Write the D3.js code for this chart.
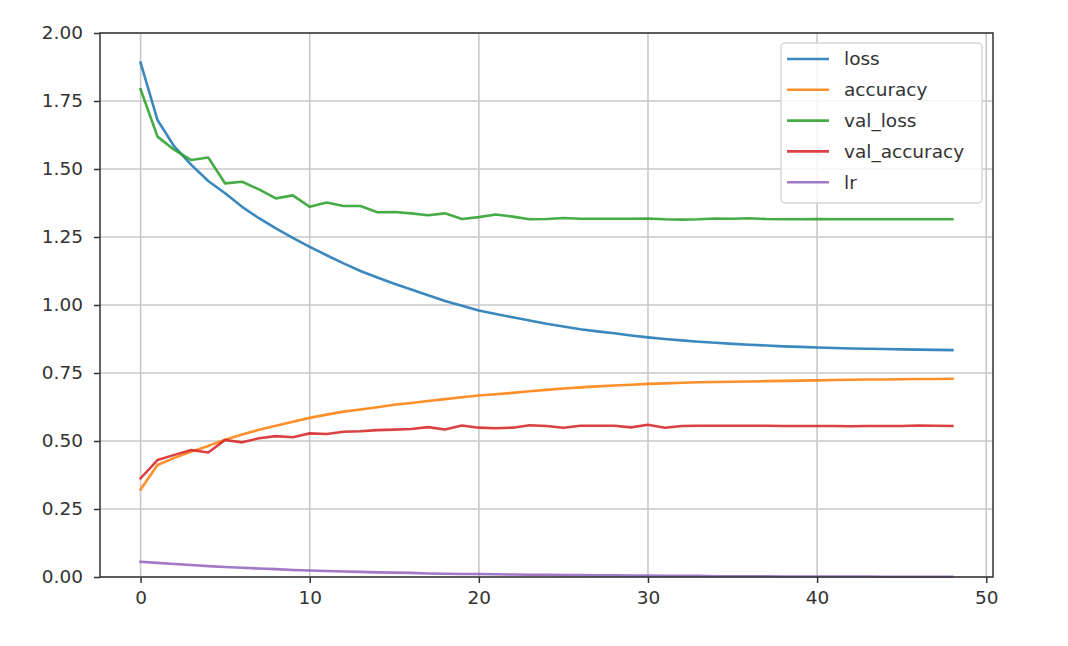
<!DOCTYPE html>
<html>
<head>
<meta charset="utf-8">
<script src="https://cdn.jsdelivr.net/npm/d3@7"></script>
<style>
  body { margin: 0; background: #fff; }
  svg { display: block; font-family: "DejaVu Sans", sans-serif; }
</style>
</head>
<body>
<script>
// training history, one value per epoch
const epochs = d3.range(0, 49);
const loss = [1.891, 1.680, 1.582, 1.515, 1.456, 1.411, 1.361, 1.319, 1.282, 1.247,
  1.214, 1.183, 1.153, 1.125, 1.101, 1.078, 1.057, 1.036, 1.015, 0.997,
  0.980, 0.967, 0.955, 0.943, 0.931, 0.921, 0.911, 0.903, 0.896, 0.888,
  0.881, 0.875, 0.870, 0.865, 0.861, 0.857, 0.854, 0.851, 0.848, 0.846,
  0.844, 0.842, 0.840, 0.839, 0.838, 0.837, 0.836, 0.835, 0.834];
const accuracy = [0.322, 0.412, 0.438, 0.461, 0.482, 0.505, 0.524, 0.541, 0.556, 0.571,
  0.585, 0.597, 0.608, 0.616, 0.624, 0.633, 0.640, 0.647, 0.654, 0.661,
  0.667, 0.672, 0.677, 0.683, 0.688, 0.693, 0.697, 0.701, 0.704, 0.707,
  0.710, 0.712, 0.714, 0.716, 0.717, 0.718, 0.719, 0.720, 0.721, 0.722,
  0.723, 0.724, 0.725, 0.726, 0.726, 0.727, 0.728, 0.728, 0.729];
const valLoss = [1.793, 1.619, 1.570, 1.533, 1.542, 1.447, 1.453, 1.425, 1.392, 1.403,
  1.361, 1.377, 1.364, 1.364, 1.341, 1.342, 1.337, 1.330, 1.337, 1.316,
  1.323, 1.333, 1.325, 1.315, 1.316, 1.320, 1.317, 1.317, 1.317, 1.317,
  1.318, 1.315, 1.314, 1.315, 1.318, 1.317, 1.319, 1.316, 1.315, 1.315,
  1.316, 1.315, 1.315, 1.315, 1.315, 1.315, 1.315, 1.315, 1.315];
const valAccuracy = [0.363, 0.430, 0.449, 0.467, 0.458, 0.504, 0.495, 0.510, 0.518, 0.514,
  0.528, 0.526, 0.534, 0.536, 0.540, 0.542, 0.544, 0.551, 0.542, 0.557,
  0.549, 0.547, 0.549, 0.558, 0.555, 0.549, 0.556, 0.556, 0.556, 0.550,
  0.560, 0.549, 0.555, 0.556, 0.556, 0.556, 0.556, 0.556, 0.555, 0.555,
  0.555, 0.555, 0.554, 0.555, 0.555, 0.555, 0.557, 0.556, 0.555];
const lr = [0.056, 0.052, 0.048, 0.044, 0.040, 0.037, 0.034, 0.031, 0.029, 0.026,
  0.024, 0.022, 0.020, 0.019, 0.017, 0.016, 0.015, 0.013, 0.012, 0.011,
  0.011, 0.010, 0.009, 0.008, 0.008, 0.007, 0.007, 0.006, 0.006, 0.005,
  0.005, 0.004, 0.004, 0.004, 0.003, 0.003, 0.003, 0.003, 0.002, 0.002,
  0.002, 0.002, 0.002, 0.002, 0.001, 0.001, 0.001, 0.001, 0.001];

const seriesNames = ["loss", "accuracy", "val_loss", "val_accuracy", "lr"];
const seriesColors = ["#1f77b4", "#ff7f0e", "#2ca02c", "#d62728", "#9467bd"];
const xTicks = [0, 10, 20, 30, 40, 50];
const yTicks = [0, 0.25, 0.5, 0.75, 1.0, 1.25, 1.5, 1.75, 2.0];

const series = [loss, accuracy, valLoss, valAccuracy, lr];

const W = 1068, H = 646;
const plotL = 100, plotR = 993, plotT = 33, plotB = 577;

const svg = d3.select("body").append("svg")
  .attr("width", W).attr("height", H);

const x = d3.scaleLinear().domain([-2.4, 50.4]).range([plotL, plotR]);
const y = d3.scaleLinear().domain([0, 2]).range([plotB, plotT]);

// grid
const grid = svg.append("g");
grid.selectAll(".gx").data(xTicks).join("line")
  .attr("x1", d => x(d)).attr("x2", d => x(d))
  .attr("y1", plotT).attr("y2", plotB)
  .attr("stroke", "#c8c8c8").attr("stroke-width", 1.6);
grid.selectAll(".gy").data(yTicks).join("line")
  .attr("x1", plotL).attr("x2", plotR)
  .attr("y1", d => y(d)).attr("y2", d => y(d))
  .attr("stroke", "#c8c8c8").attr("stroke-width", 1.6);

// lines
const line = d3.line().x((d, i) => x(epochs[i])).y(d => y(d));
svg.append("g").selectAll("path").data(series).join("path")
  .attr("d", d => line(d))
  .attr("fill", "none")
  .attr("stroke", (d, i) => seriesColors[i])
  .attr("stroke-opacity", 0.88)
  .attr("stroke-width", 2.6)
  .attr("stroke-linejoin", "round")
  .attr("stroke-linecap", "square");

// axes
const xAxis = svg.append("g").attr("transform", `translate(0,${plotB})`)
  .call(d3.axisBottom(x).tickValues(xTicks).tickSize(6).tickPadding(8).tickFormat(d3.format("d")));
const yAxis = svg.append("g").attr("transform", `translate(${plotL},0)`)
  .call(d3.axisLeft(y).tickValues(yTicks).tickSize(6).tickPadding(11).tickFormat(d3.format(".2f")));
[xAxis, yAxis].forEach(a => {
  a.select(".domain").remove();
  a.selectAll("line").attr("stroke", "#333").attr("stroke-width", 1.5);
  a.selectAll("text").attr("fill", "#333").style("font-size", "18.5px")
    .style("font-family", "'DejaVu Sans', sans-serif");
});

// spines
svg.append("rect")
  .attr("x", plotL).attr("y", plotT)
  .attr("width", plotR - plotL).attr("height", plotB - plotT)
  .attr("fill", "none").attr("stroke", "#333").attr("stroke-width", 1.5);

// legend
const lg = svg.append("g").attr("transform", "translate(781,43)");
lg.append("rect")
  .attr("width", 201).attr("height", 160).attr("rx", 4)
  .attr("fill", "#fff").attr("fill-opacity", 0.8)
  .attr("stroke", "#d6d6d6").attr("stroke-width", 1.4);
const rows = lg.selectAll(".row").data(seriesNames).join("g")
  .attr("transform", (d, i) => `translate(0,${16 + i * 30.8})`);
rows.append("line")
  .attr("x1", 6).attr("x2", 48)
  .attr("stroke", (d, i) => seriesColors[i]).attr("stroke-opacity", 0.88)
  .attr("stroke-width", 2.6);
rows.append("text")
  .attr("x", 63).attr("dy", "0.35em")
  .attr("fill", "#333").style("font-size", "18.5px")
  .text(d => d);
</script>
</body>
</html>
